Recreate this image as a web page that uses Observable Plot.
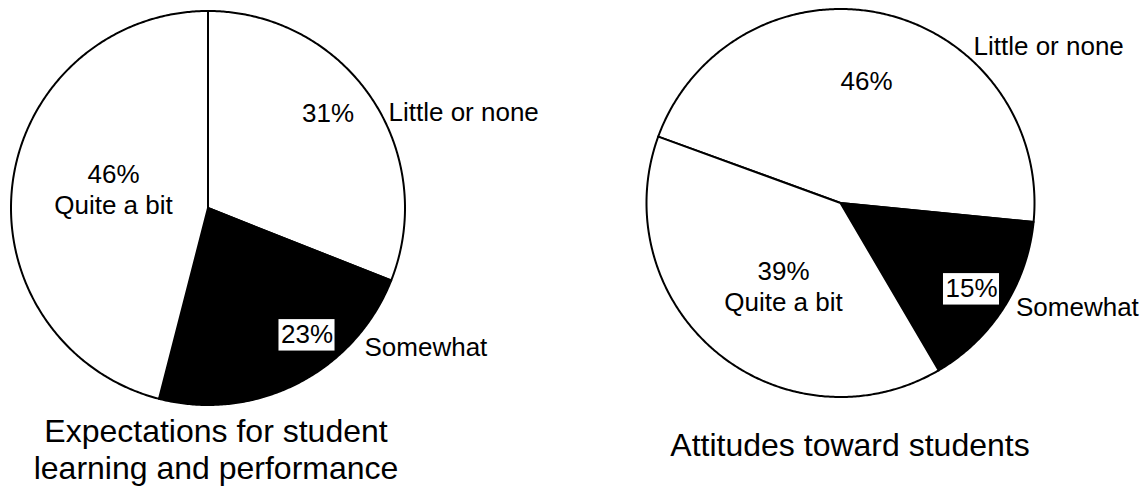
<!DOCTYPE html>
<html>
<head>
<meta charset="utf-8">
<script src="https://cdn.jsdelivr.net/npm/d3@7"></script>
<script src="https://cdn.jsdelivr.net/npm/@observablehq/plot@0.6"></script>
<style>
  body { margin: 0; background: #fff; }
  #chart svg { display: block; }
</style>
</head>
<body>
<div id="chart"></div>
<script>
// Response categories, in drawing order (clockwise)
const categories = ["Little or none", "Somewhat", "Quite a bit"];
// Percent of responses per category
const expectationsValues = [31, 23, 46];
const attitudesValues = [46, 15, 39];
// Slice fills per category
const sliceFills = ["white", "black", "white"];
// Chart captions
const chartTitles = ["Expectations for student\nlearning and performance", "Attitudes toward students"];

const FONT = "'Liberation Sans', Arial, Helvetica, sans-serif";
const LABEL_SIZE = 26;
const TITLE_SIZE = 32;

// Pie layout in pixels; start angle in degrees clockwise from 12 o'clock
const pies = [
  {
    values: expectationsValues, cx: 207.5, cy: 207.5, r: 197, start: 0,
    title: chartTitles[0], titleX: 215.5, titleY: 478,
    // per slice: percent label (centred), category label (left aligned) or combined
    labels: [
      {pct: [327.5, 121.5], cat: [388, 120]},
      {pct: [306.5, 342.5], cat: [364, 355], boxed: true},
      {combined: [113, 213.5]}
    ]
  },
  {
    values: attitudesValues, cx: 840, cy: 202.5, r: 194, start: -70,
    title: chartTitles[1], titleX: 849.5, titleY: 455,
    labels: [
      {pct: [866, 89.5], cat: [973, 54.5]},
      {pct: [971, 296.5], cat: [1015.5, 315], boxed: true},
      {combined: [783, 310]}
    ]
  }
];

// Slice outlines as closed polygons sampled along each arc
const slicePoints = [];
const middleLabels = [];
const startLabels = [];
const boxes = [];
const titles = [];

const measure = document.createElement("canvas").getContext("2d");
measure.font = `${LABEL_SIZE}px ${FONT}`;

pies.forEach((pie, p) => {
  const arcs = d3.pie().sort(null).value(d => d)
    .startAngle(pie.start * Math.PI / 180)
    .endAngle((pie.start + 360) * Math.PI / 180)(pie.values);
  arcs.forEach((a, i) => {
    const key = `${p}-${i}`;
    const fill = sliceFills[i];
    slicePoints.push({key, fill, x: pie.cx, y: pie.cy});
    const steps = Math.max(2, Math.ceil((a.endAngle - a.startAngle) / (Math.PI / 360)));
    for (let s = 0; s <= steps; ++s) {
      const t = a.startAngle + (a.endAngle - a.startAngle) * s / steps;
      slicePoints.push({key, fill, x: pie.cx + pie.r * Math.sin(t), y: pie.cy - pie.r * Math.cos(t)});
    }
    const lab = pie.labels[i];
    const pctText = `${pie.values[i]}%`;
    if (lab.combined) {
      middleLabels.push({x: lab.combined[0], y: lab.combined[1], text: `${pctText}\n${categories[i]}`});
    } else {
      middleLabels.push({x: lab.pct[0], y: lab.pct[1], text: pctText});
      startLabels.push({x: lab.cat[0], y: lab.cat[1], text: categories[i]});
      if (lab.boxed) {
        const w = measure.measureText(pctText).width;
        boxes.push({
          x1: lab.pct[0] - w / 2 - 2, x2: lab.pct[0] + w / 2 + 2,
          y1: lab.pct[1] - 0.9 * LABEL_SIZE, y2: lab.pct[1] + 0.31 * LABEL_SIZE
        });
      }
    }
  });
  titles.push({x: pie.titleX, y: pie.titleY, text: pie.title});
});

const chart = Plot.plot({
  width: 1146,
  height: 487,
  margin: 0,
  x: {type: "identity", axis: null},
  y: {type: "identity", axis: null},
  color: {type: "identity"},
  style: {fontFamily: FONT, background: "white", color: "black"},
  marks: [
    Plot.line(slicePoints, {
      x: "x", y: "y", z: "key", fill: "fill",
      stroke: "black", strokeWidth: 2, strokeLinejoin: "round",
      curve: "linear-closed"
    }),
    Plot.rect(boxes, {x1: "x1", x2: "x2", y1: "y1", y2: "y2", fill: "white"}),
    Plot.text(middleLabels, {
      x: "x", y: "y", text: "text", textAnchor: "middle", lineAnchor: "bottom",
      lineHeight: 1.18, fontSize: LABEL_SIZE, fill: "black"
    }),
    Plot.text(startLabels, {
      x: "x", y: "y", text: "text", textAnchor: "start", lineAnchor: "bottom",
      fontSize: LABEL_SIZE, fill: "black"
    }),
    Plot.text(titles, {
      x: "x", y: "y", text: "text", textAnchor: "middle", lineAnchor: "bottom",
      lineHeight: 1.13, fontSize: TITLE_SIZE, fill: "black"
    })
  ]
});

document.getElementById("chart").append(chart);
</script>
</body>
</html>
